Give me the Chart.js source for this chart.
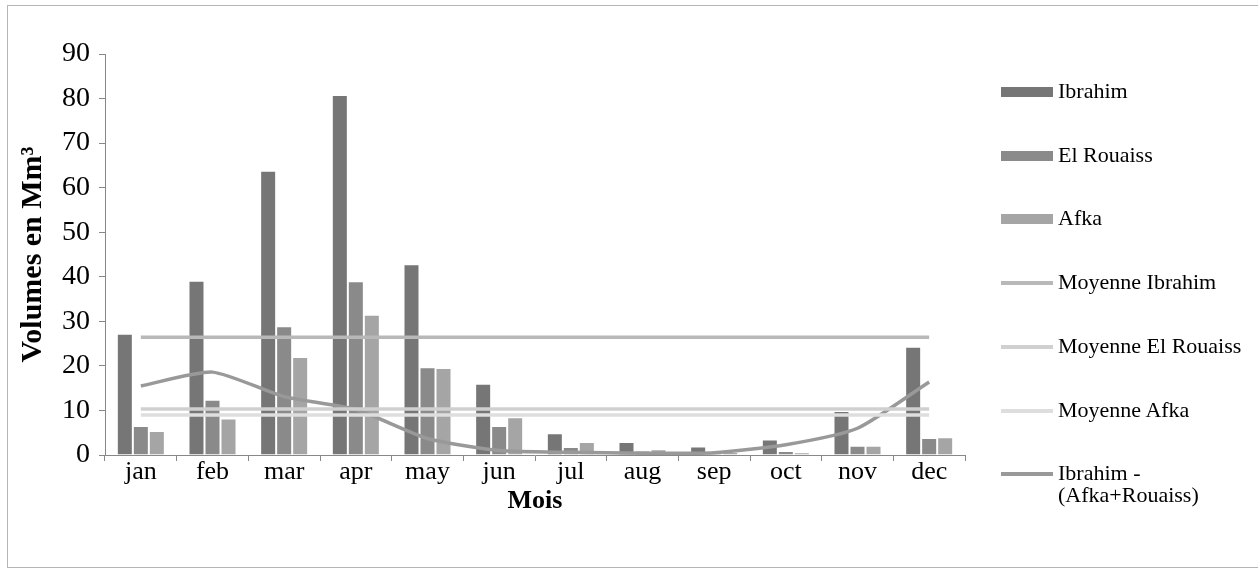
<!DOCTYPE html>
<html>
<head>
<meta charset="utf-8">
<script src="https://cdn.jsdelivr.net/npm/chart.js@4.4.1/dist/chart.umd.min.js"></script>
<style>
    html, body { margin: 0; padding: 0; background: #fff; }
    #wrap { position: relative; width: 1258px; height: 580px; overflow: hidden; }
    #frame { position: absolute; left: 7px; top: 5px; width: 1270px; height: 561px; border: 1px solid #b5b5b5; }
    #legend { position: absolute; left: 0; top: 0; font-family: "Liberation Serif", "Times New Roman", serif; font-size: 22px; color: #000; }
    .item { position: absolute; left: 1001px; white-space: nowrap; }
    .sym { position: absolute; left: 0; width: 52px; }
    .txt { position: absolute; left: 57px; line-height: 22px; }
</style>
</head>
<body>
<div id="wrap">
    <div id="frame"></div>
    <canvas id="volChart" width="1258" height="580"></canvas>
    <div id="legend"></div>
</div>
<script>
// Data (Mm3)
const mois = ['jan', 'feb', 'mar', 'apr', 'may', 'jun', 'jul', 'aug', 'sep', 'oct', 'nov', 'dec'];
const ibrahim = [27.2, 39.1, 63.8, 80.8, 42.8, 16.0, 4.9, 2.9, 1.9, 3.5, 9.9, 24.3];
const elRouaiss = [6.5, 12.4, 28.9, 39.0, 19.7, 6.5, 1.8, 1.0, 0.8, 0.9, 2.1, 3.8];
const afka = [5.4, 8.2, 22.0, 31.5, 19.5, 8.5, 2.9, 1.3, 0.7, 0.6, 2.1, 4.0];
const moyIbrahim = [26.4, 26.4, 26.4, 26.4, 26.4, 26.4, 26.4, 26.4, 26.4, 26.4, 26.4, 26.4];
const moyElRouaiss = [10.3, 10.3, 10.3, 10.3, 10.3, 10.3, 10.3, 10.3, 10.3, 10.3, 10.3, 10.3];
const moyAfka = [9.0, 9.0, 9.0, 9.0, 9.0, 9.0, 9.0, 9.0, 9.0, 9.0, 9.0, 9.0];
const difference = [15.5, 18.6, 13.1, 10.2, 3.7, 1.0, 0.6, 0.4, 0.5, 2.3, 6.0, 16.4];

const serif = '"Liberation Serif", "Times New Roman", serif';

function barSet(label, data, color) {
    return {
        type: 'bar', label: label, data: data, order: 2,
        backgroundColor: color, borderColor: 'rgba(255,255,255,0.45)', borderWidth: 1
    };
}
function lineSet(label, data, color, tension) {
    return {
        type: 'line', label: label, data: data, order: 1,
        borderColor: color, backgroundColor: color, borderWidth: 3.5,
        pointRadius: 0, tension: tension
    };
}

const ctx = document.getElementById('volChart').getContext('2d');
const chart = new Chart(ctx, {
    data: {
        labels: mois,
        datasets: [
            barSet('Ibrahim', ibrahim, '#767676'),
            barSet('El Rouaiss', elRouaiss, '#8a8a8a'),
            barSet('Afka', afka, '#a5a5a5'),
            lineSet('Moyenne Ibrahim', moyIbrahim, '#b8b8b8', 0),
            lineSet('Moyenne El Rouaiss', moyElRouaiss, '#d0d0d0', 0),
            lineSet('Moyenne Afka', moyAfka, '#dedede', 0),
            lineSet(['Ibrahim -', '(Afka+Rouaiss)'], difference, '#999999', 0.2)
        ]
    },
    options: {
        responsive: false,
        animation: false,
        layout: { padding: { top: 54, right: 293, bottom: 0, left: 0 } },
        plugins: { legend: { display: false }, tooltip: { enabled: false } },
        datasets: { bar: { categoryPercentage: 0.67, barPercentage: 1.0 } },
        scales: {
            x: {
                afterFit: function (s) { s.height = 125; },
                grid: { offset: true, drawOnChartArea: false, tickLength: 6, color: '#888' },
                border: { color: '#888', width: 1 },
                ticks: { color: '#000', font: { family: serif, size: 26 }, padding: -4 },
                title: {
                    display: true, text: 'Mois', color: '#000',
                    font: { family: serif, size: 26, weight: 'bold' },
                    padding: { top: 0, bottom: 63 }
                }
            },
            y: {
                min: 0, max: 90,
                afterFit: function (s) { s.width = 105; },
                grid: { drawOnChartArea: false, tickLength: 6, color: '#888' },
                border: { color: '#888', width: 1 },
                ticks: { stepSize: 10, color: '#000', font: { family: serif, size: 28 }, padding: 9 },
                title: {
                    display: true, text: 'Volumes en Mm³', color: '#000',
                    font: { family: serif, size: 30, weight: 'bold' },
                    padding: { top: 15, bottom: 0 }
                }
            }
        }
    }
});

// Legend on the right, built from the chart datasets
const legend = document.getElementById('legend');
chart.data.datasets.forEach(function (ds, i) {
    const cy = 92 + i * 63.7;
    const item = document.createElement('div');
    item.className = 'item';
    item.style.top = cy + 'px';
    const sym = document.createElement('div');
    sym.className = 'sym';
    const h = ds.type === 'bar' ? 10 : 4;
    sym.style.height = h + 'px';
    sym.style.top = (-h / 2) + 'px';
    sym.style.background = ds.type === 'bar' ? ds.backgroundColor : ds.borderColor;
    const txt = document.createElement('div');
    txt.className = 'txt';
    txt.style.top = '-12px';
    txt.innerHTML = [].concat(ds.label).join('<br>');
    item.appendChild(sym);
    item.appendChild(txt);
    legend.appendChild(item);
});
</script>
</body>
</html>
